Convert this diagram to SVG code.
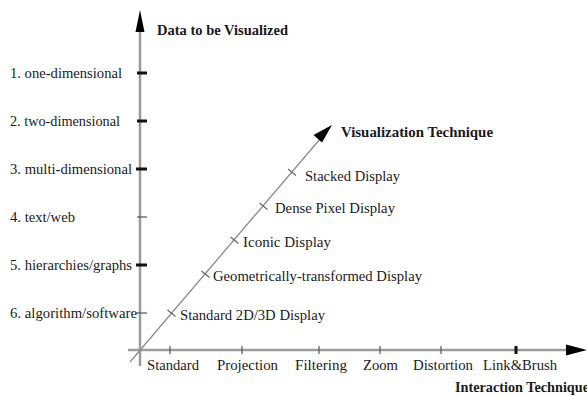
<svg xmlns="http://www.w3.org/2000/svg" width="587" height="396" viewBox="0 0 587 396">
<style>
text{font-family:'Liberation Serif','Times New Roman','DejaVu Serif',serif;font-size:14.5px;fill:#1a1a1a}
.b{font-weight:bold;font-size:14px}
.axis{stroke:#9a9a9a;stroke-width:2.5;fill:none}
.diag{stroke:#8a8a8a;stroke-width:1.3;fill:none}
.tk{stroke:#111;stroke-width:3}
.tn{stroke:#555;stroke-width:1.2}
.tx{stroke:#666;stroke-width:1.2}
.head{fill:#000}
</style>
<g id="connectors">
<line class="axis" x1="140" y1="30" x2="140" y2="366"/>
<polygon class="head" points="140,10 135.5,32 144.5,32"/>
<line class="axis" x1="128" y1="350" x2="568" y2="350"/>
<polygon class="head" points="587,350 566,344.5 566,355.5"/>
<line class="diag" x1="130" y1="362" x2="320" y2="139"/>
<polygon class="head" points="332,125 313.5,135 322,142.5"/>
</g>
<g id="y-ticks">
<line class="tk" x1="137" y1="73" x2="147" y2="73"/>
<line class="tk" x1="137" y1="121" x2="147" y2="121"/>
<line class="tk" x1="136" y1="169" x2="147" y2="169"/>
<line class="tn" x1="137" y1="217" x2="147" y2="217"/>
<line class="tk" x1="136" y1="265" x2="147" y2="265"/>
<line class="tn" x1="136" y1="313" x2="147" y2="313"/>
</g>
<g id="x-ticks">
<line class="tn" x1="170" y1="346" x2="170" y2="354"/>
<line class="tn" x1="242" y1="346" x2="242" y2="354"/>
<line class="tn" x1="319" y1="346" x2="319" y2="354"/>
<line class="tn" x1="380" y1="346" x2="380" y2="354"/>
<line class="tn" x1="441" y1="346" x2="441" y2="354"/>
<line class="tk" x1="516" y1="346" x2="516" y2="354"/>
</g>
<g id="diag-ticks">
<line class="tx" x1="167.5" y1="310" x2="175.5" y2="316.5"/>
<line class="tx" x1="201.5" y1="271" x2="209.5" y2="277.5"/>
<line class="tx" x1="230.5" y1="237" x2="238.5" y2="243.5"/>
<line class="tx" x1="259.5" y1="203" x2="267.5" y2="209.5"/>
<line class="tx" x1="288" y1="169" x2="296" y2="175.5"/>
</g>
<g id="y-title"><text class="b" x="157" y="35" textLength="131" lengthAdjust="spacingAndGlyphs">Data to be Visualized</text></g>
<g id="y-labels">
<text x="10" y="78" textLength="112" lengthAdjust="spacingAndGlyphs">1. one-dimensional</text>
<text x="10" y="126" textLength="110" lengthAdjust="spacingAndGlyphs">2. two-dimensional</text>
<text x="10" y="174" textLength="122" lengthAdjust="spacingAndGlyphs">3. multi-dimensional</text>
<text x="10" y="222" textLength="65" lengthAdjust="spacingAndGlyphs">4. text/web</text>
<text x="10" y="270" textLength="122" lengthAdjust="spacingAndGlyphs">5. hierarchies/graphs</text>
<text x="10" y="318" textLength="127" lengthAdjust="spacingAndGlyphs">6. algorithm/software</text>
</g>
<g id="diag-title"><text class="b" x="341" y="137" textLength="152" lengthAdjust="spacingAndGlyphs">Visualization  Technique</text></g>
<g id="diag-labels">
<text x="180" y="320" textLength="145" lengthAdjust="spacingAndGlyphs">Standard 2D/3D Display</text>
<text x="213" y="281" textLength="209" lengthAdjust="spacingAndGlyphs">Geometrically-transformed Display</text>
<text x="243" y="247" textLength="88" lengthAdjust="spacingAndGlyphs">Iconic  Display</text>
<text x="275" y="213" textLength="120" lengthAdjust="spacingAndGlyphs">Dense Pixel Display</text>
<text x="305" y="181" textLength="95" lengthAdjust="spacingAndGlyphs">Stacked  Display</text>
</g>
<g id="x-labels">
<text x="147" y="370" textLength="52" lengthAdjust="spacingAndGlyphs">Standard</text>
<text x="217" y="370" textLength="61" lengthAdjust="spacingAndGlyphs">Projection</text>
<text x="295" y="370" textLength="52" lengthAdjust="spacingAndGlyphs">Filtering</text>
<text x="363" y="370" textLength="35" lengthAdjust="spacingAndGlyphs">Zoom</text>
<text x="413" y="370" textLength="60" lengthAdjust="spacingAndGlyphs">Distortion</text>
<text x="483" y="370" textLength="74" lengthAdjust="spacingAndGlyphs">Link&amp;Brush</text>
</g>
<g id="x-title"><text class="b" x="455" y="392" textLength="134" lengthAdjust="spacingAndGlyphs">Interaction Technique</text></g>
</svg>
